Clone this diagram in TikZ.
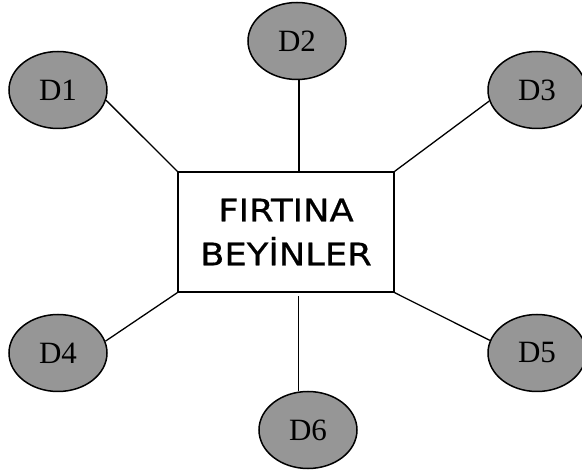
\documentclass[tikz,border=0pt]{standalone}
\usepackage{fontspec}
\setmainfont{Liberation Serif}
\newfontfamily\boxfont[FakeStretch=1.14,FakeBold=0.6]{DejaVu Sans}
\usetikzlibrary{shapes.geometric}
\definecolor{dfill}{RGB}{150,150,150}
\begin{document}
\begin{tikzpicture}[x=1pt,y=-1pt,
  idea/.style={ellipse, draw, line width=1.5pt, fill=dfill,
    minimum width=98pt, minimum height=77pt, inner sep=0pt,
    font=\fontsize{31}{33}\selectfont},
  hub/.style={rectangle, draw, line width=1.4pt, fill=white,
    minimum width=216pt, minimum height=120pt, inner sep=0pt,
    align=center, font=\boxfont\fontsize{31}{44}\selectfont},
  link/.style={line width=1.3pt}]
\useasboundingbox (0,0) rectangle (582,473);
\clip (0,0) rectangle (582,473);

% central box
\node[hub] (box) at (286,232) {FIRTINA\\BEYİNLER};

% surrounding ideas
\node[idea] (d1) at (58,90)   {D1};
\node[idea] (d2) at (297,41)  {D2};
\node[idea] (d3) at (537,90)  {D3};
\node[idea] (d4) at (58,353)  {D4};
\node[idea] (d5) at (537,353) {D5};
\node[idea] (d6) at (308,430) {D6};

% connectors
\draw[link] (d1.348) -- (box.north west);
\draw[link] (d2.273) -- (d2.273 |- box.north);
\draw[link] (d3.193) -- (box.north east);
\draw[link] (d4.14)  -- (box.south west);
\draw[link] (d5.165) -- (box.south east);
\draw[link] (d6.104) -- ([yshift=-3pt]d6.104 |- box.south);
\end{tikzpicture}
\end{document}
